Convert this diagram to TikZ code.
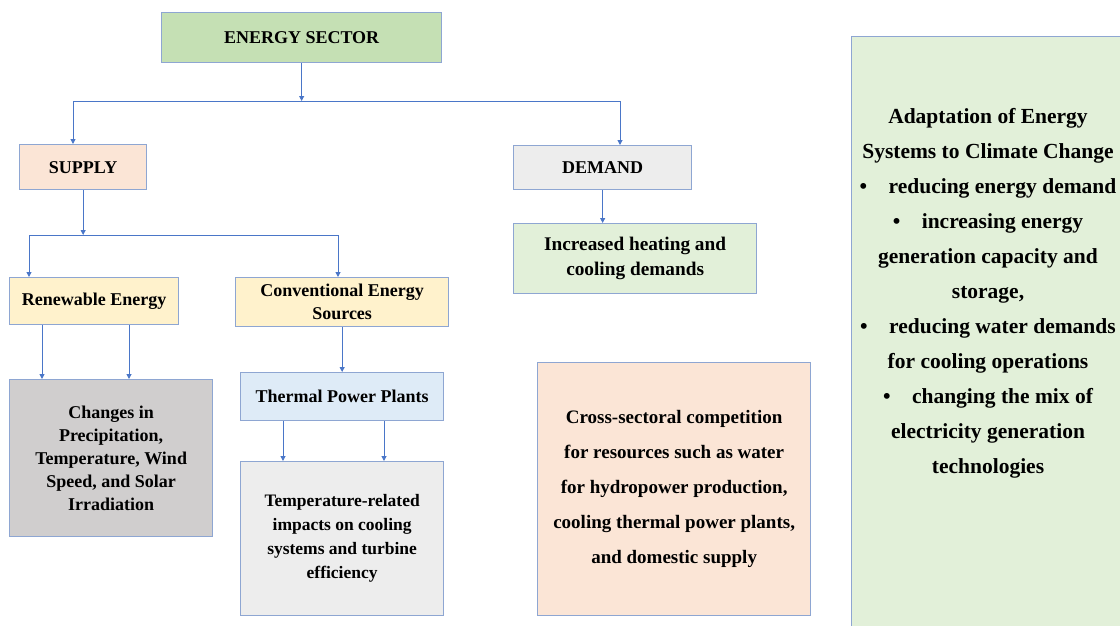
\documentclass[tikz,border=0pt]{standalone}
\usepackage{fontspec}
\setmainfont{Liberation Serif}
\usetikzlibrary{arrows.meta}
\definecolor{edge}{HTML}{8EA6D2}
\definecolor{wire}{HTML}{4A76C8}
\definecolor{sectorfill}{HTML}{C5E0B4}
\definecolor{peach}{HTML}{FBE5D6}
\definecolor{paleGray}{HTML}{EDEDED}
\definecolor{paleGreen}{HTML}{E2F0D9}
\definecolor{paleYellow}{HTML}{FFF2CC}
\definecolor{darkGray}{HTML}{D0CECE}
\definecolor{paleBlue}{HTML}{DEEBF7}
\tikzset{
  box/.style={draw=edge, line width=1.3pt, anchor=north west, align=center,
    inner sep=0pt, font=\bfseries\fontsize{18}{23}\selectfont},
  link/.style={draw=wire, line width=1pt},
  arr/.style={link, -{Triangle[length=5pt,width=5pt]}},
}
\begin{document}
\begin{tikzpicture}[x=1pt,y=-1pt]
  \useasboundingbox (0,0) rectangle (1120,625);
  % boxes
  \node[box, fill=sectorfill, minimum width=280, minimum height=50] (sector) at (161,12) {ENERGY SECTOR};
  \node[box, fill=peach, minimum width=127, minimum height=45] (supply) at (19,144) {SUPPLY};
  \node[box, fill=paleGray, minimum width=178, minimum height=44] (demand) at (513,145) {DEMAND};
  \node[box, fill=paleGreen, minimum width=243, minimum height=70, font=\bfseries\fontsize{19.3}{25}\selectfont] (heatcool) at (513,223)
    {Increased heating and\\cooling demands};
  \node[box, fill=paleYellow, minimum width=169, minimum height=47] (renew) at (9,277) {Renewable Energy};
  \node[box, fill=paleYellow, minimum width=213, minimum height=49] (conv) at (235,277)
    {Conventional Energy\\Sources};
  \node[box, fill=darkGray, minimum width=203, minimum height=157] (climate) at (9,379)
    {Changes in\\Precipitation,\\Temperature,  Wind\\Speed, and Solar\\Irradiation};
  \node[box, fill=paleBlue, minimum width=203, minimum height=48] (thermal) at (240,372) {Thermal  Power Plants};
  \node[box, fill=paleGray, minimum width=203, minimum height=154, font=\bfseries\fontsize{17.5}{24}\selectfont] (impacts) at (240,461)
    {Temperature-related\\impacts on cooling\\systems and turbine\\efficiency};
  \node[box, fill=peach, minimum width=273, minimum height=253, font=\bfseries\fontsize{19}{35}\selectfont] (compete) at (537,362)
    {Cross-sectoral  competition\\for resources such as water\\for hydropower  production,\\cooling thermal power plants,\\and domestic supply};
  \node[box, fill=paleGreen, minimum width=300, minimum height=620] (adapt) at (851,36) {};
  \node[align=center, inner sep=0pt, font=\bfseries\fontsize{21.5}{35}\selectfont] (adapttxt) at (988,293)
    {Adaptation of Energy\\Systems to Climate Change\\
     \textbullet\quad reducing energy demand\\
     \textbullet\quad increasing energy\\generation capacity and\\storage,\\
     \textbullet\quad reducing water demands\\for cooling operations\\
     \textbullet\quad changing the mix of\\electricity generation\\technologies};
  % connectors
  \coordinate (busA) at (73,101);
  \coordinate (busB) at (620,101);
  \coordinate (busC) at (29,235);
  \coordinate (busD) at (338,235);
  \draw[arr] (sector.south) -- (sector.south |- busA);
  \draw[link] (busA) -- (busB);
  \draw[arr] (busA) -- (busA |- supply.north);
  \draw[arr] (busB) -- (busB |- demand.north);
  \draw[arr] (demand.south) -- (demand.south |- heatcool.north);
  \draw[arr] (supply.south) -- (supply.south |- busC);
  \draw[link] (busC) -- (busD);
  \draw[arr] (busC) -- (busC |- renew.north);
  \draw[arr] (busD) -- (busD |- conv.north);
  \draw[arr] (conv.south) -- (conv.south |- thermal.north);
  \foreach \x in {42,129}
    \draw[arr] (\x,0 |- renew.south) -- (\x,0 |- climate.north);
  \foreach \x in {283,384}
    \draw[arr] (\x,0 |- thermal.south) -- (\x,0 |- impacts.north);
\end{tikzpicture}
\end{document}
